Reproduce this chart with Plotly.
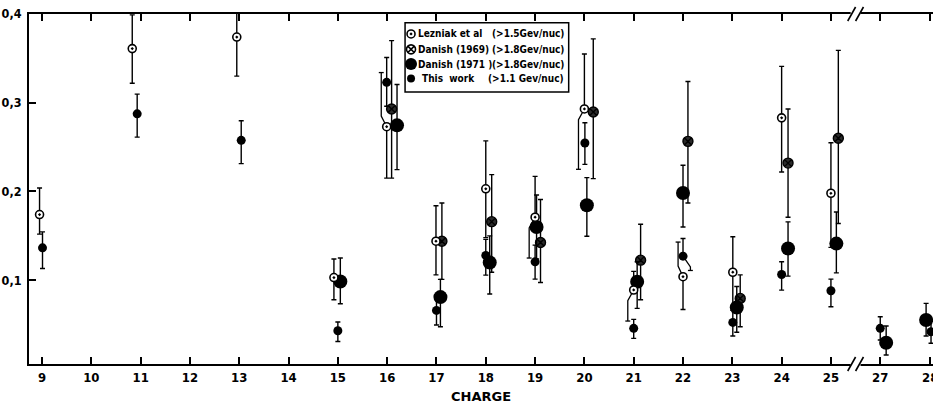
import plotly.graph_objects as go

# ---------------- data ----------------
TICK_CHARGES = [9, 10, 11, 12, 13, 14, 15, 16, 17, 18, 19, 20, 21, 22, 23, 24, 25, 27, 28]
TICK_LABELS = [str(c) for c in TICK_CHARGES]
Y_TICKS = [0.1, 0.2, 0.3, 0.4]
Y_TICK_LABELS = ["0,1", "0,2", "0,3", "0,4"]

# Lezniak et al (>1.5 GeV/nuc)
LEZ_Z = [9, 11, 13, 15, 16, 17, 18, 19, 20, 21, 22, 23, 24, 25]
LEZ_V = [0.174, 0.361, 0.374, 0.103, 0.273, 0.144, 0.203, 0.171, 0.293, 0.089, 0.104, 0.109, 0.283, 0.198]
LEZ_HI = [0.204, 0.399, 0.407, 0.124, 0.334, 0.184, 0.257, 0.217, 0.355, 0.110, 0.143, 0.149, 0.341, 0.255]
LEZ_LO = [0.152, 0.322, 0.330, 0.078, 0.215, 0.106, 0.148, 0.125, 0.225, 0.054, 0.067, 0.070, 0.222, 0.137]

# Danish (1969) (>1.8 GeV/nuc)
D69_Z = [16, 17, 18, 19, 20, 21, 22, 23, 24, 25]
D69_V = [0.293, 0.144, 0.166, 0.1425, 0.2895, 0.1226, 0.2565, 0.0795, 0.232, 0.260]
D69_HI = [0.370, 0.187, 0.219, 0.191, 0.372, 0.163, 0.324, 0.106, 0.293, 0.359]
D69_LO = [0.215, 0.101, 0.109, 0.0975, 0.2145, 0.078, 0.187, 0.0476, 0.171, 0.164]

# Danish (1971) (>1.8 GeV/nuc)
D71_Z = [15, 16, 17, 18, 19, 20, 21, 22, 23, 24, 25, 27, 28]
D71_V = [0.0986, 0.2745, 0.081, 0.120, 0.160, 0.1845, 0.0982, 0.1983, 0.0693, 0.1358, 0.1413, 0.0296, 0.0551]
D71_HI = [0.125, 0.3205, 0.101, 0.150, 0.196, 0.2156, 0.1208, 0.2295, 0.093, 0.1657, 0.1769, 0.0484, 0.0739]
D71_LO = [0.0735, 0.2246, 0.0476, 0.0844, 0.124, 0.1496, 0.0683, 0.160, 0.0413, 0.1046, 0.1083, 0.0157, 0.0371]

# This work (>1.1 GeV/nuc)
TW_Z = [9, 11, 13, 15, 16, 17, 18, 19, 20, 21, 22, 23, 24, 25, 27, 28]
TW_V = [0.1365, 0.2875, 0.2576, 0.0431, 0.323, 0.066, 0.128, 0.1207, 0.2546, 0.0458, 0.1271, 0.0525, 0.1065, 0.0881, 0.0458, 0.042]
TW_HI = [0.1545, 0.3097, 0.2797, 0.0529, 0.351, 0.083, 0.146, 0.1395, 0.2775, 0.0559, 0.147, 0.066, 0.1208, 0.1012, 0.0588, 0.055]
TW_LO = [0.1132, 0.2613, 0.2314, 0.031, 0.296, 0.0495, 0.1057, 0.1012, 0.2306, 0.0345, 0.111, 0.0371, 0.0889, 0.0701, 0.0326, 0.0289]

# ---------------- layout styling ----------------
# horizontal nudges so overlapping points separate (in axis units)
LEZ_DX = [-0.05, -0.17, -0.05, -0.08, -0.01, -0.01, 0, 0, 0, 0, 0, 0.01, 0, 0]
D69_DX = [0.09, 0.11, 0.12, 0.11, 0.18, 0.14, 0.10, 0.16, 0.13, 0.15]
D71_DX = [0.05, 0.20, 0.08, 0.08, 0.03, 0.05, 0.07, 0.0, 0.09, 0.13, 0.11, 0.12, -0.07]
TW_DX = [0.01, -0.07, 0.04, 0, -0.01, 0, 0, 0, 0.01, 0, 0, 0.01, 0, 0, 0, 0.03]

# error-bar halves drawn as side brackets instead: (charge, side, sideways shift)
LEZ_BRACKETS = [(16, "hi", -0.11), (19, "lo", -0.12), (20, "lo", -0.12), (21, "lo", -0.12), (22, "hi", -0.10)]
TW_BRACKETS = [(22, "lo", 0.15)]


def axis_pos(z):
    # the axis skips charge 26 (axis break), so 27 and 28 move one slot left
    return z - 1 if z >= 27 else z


def xs(zs, dxs):
    return [axis_pos(z) + d for z, d in zip(zs, dxs)]


def err(zs, v, hi, lo, brackets):
    skip = {(z, s) for z, s, _ in brackets}
    plus = [0 if (z, "hi") in skip else h - a for z, a, h in zip(zs, v, hi)]
    minus = [0 if (z, "lo") in skip else a - l for z, a, l in zip(zs, v, lo)]
    return dict(type="data", symmetric=False, array=plus, arrayminus=minus,
                color="black", thickness=1.4, width=2.5)


def bracket_lines(zs, dxs, v, hi, lo, brackets):
    bx, by = [], []
    for z, side, shift in brackets:
        i = zs.index(z)
        x0 = axis_pos(z) + dxs[i]
        bound = hi[i] if side == "hi" else lo[i]
        sgn = 1 if side == "hi" else -1
        knee = v[i] + sgn * 0.012
        bx += [x0, x0 + shift, x0 + shift, None, x0 + shift - 0.05, x0 + shift + 0.05, None]
        by += [v[i], knee, bound, None, bound, bound, None]
    return bx, by


fig = go.Figure()

for zs, dxs, v, hi, lo, br in [(LEZ_Z, LEZ_DX, LEZ_V, LEZ_HI, LEZ_LO, LEZ_BRACKETS),
                               (TW_Z, TW_DX, TW_V, TW_HI, TW_LO, TW_BRACKETS)]:
    bx, by = bracket_lines(zs, dxs, v, hi, lo, br)
    fig.add_trace(go.Scatter(x=bx, y=by, mode="lines", line=dict(color="black", width=1.3),
                             showlegend=False, hoverinfo="skip"))

fig.add_trace(go.Scatter(
    x=xs(D69_Z, D69_DX), y=D69_V, mode="markers", error_y=err(D69_Z, D69_V, D69_HI, D69_LO, []),
    marker=dict(symbol="circle-x", size=10, color="#2a2a2a", line=dict(color="black", width=1.4)),
    cliponaxis=False, showlegend=False))
fig.add_trace(go.Scatter(
    x=xs(D71_Z, D71_DX), y=D71_V, mode="markers", error_y=err(D71_Z, D71_V, D71_HI, D71_LO, []),
    marker=dict(symbol="circle", size=14, color="black", line=dict(color="black", width=0)),
    cliponaxis=False, showlegend=False))
fig.add_trace(go.Scatter(
    x=xs(TW_Z, TW_DX), y=TW_V, mode="markers", error_y=err(TW_Z, TW_V, TW_HI, TW_LO, TW_BRACKETS),
    marker=dict(symbol="circle", size=9, color="black", line=dict(color="black", width=0)),
    cliponaxis=False, showlegend=False))
fig.add_trace(go.Scatter(
    x=xs(LEZ_Z, LEZ_DX), y=LEZ_V, mode="markers", error_y=err(LEZ_Z, LEZ_V, LEZ_HI, LEZ_LO, LEZ_BRACKETS),
    marker=dict(symbol="circle-dot", size=8, color="white", line=dict(color="black", width=1.6)),
    cliponaxis=False, showlegend=False))

# ---------------- hand-built legend box ----------------
LEG_X0, LEG_X1, LEG_Y0, LEG_Y1 = 0.416, 0.597, 0.777, 0.975
ROW_Y = [0.943, 0.899, 0.857, 0.816]
SYM_X = 0.4226
legend_names = ["Lezniak et al", "Danish (1969)", "Danish (1971 )", "This  work"]
legend_ranges = ["(>1.5Gev/nuc)", "(>1.8Gev/nuc)", "(>1.8Gev/nuc)", "(>1.1 Gev/nuc)"]
legend_syms = [
    dict(symbol="circle-dot", size=8, color="white", line=dict(color="black", width=1.6)),
    dict(symbol="circle-x", size=9, color="white", line=dict(color="black", width=1.6)),
    dict(symbol="circle", size=12, color="black", line=dict(color="black", width=0)),
    dict(symbol="circle", size=8, color="black", line=dict(color="black", width=0)),
]

shapes = [dict(type="rect", xref="paper", yref="paper", x0=LEG_X0, x1=LEG_X1, y0=LEG_Y0, y1=LEG_Y1,
               line=dict(color="black", width=1.5), fillcolor="white", layer="below")]

for yv, sym in zip(ROW_Y, legend_syms):
    fig.add_trace(go.Scatter(x=[SYM_X], y=[yv], xaxis="x2", yaxis="y2", mode="markers",
                             marker=sym, showlegend=False, hoverinfo="skip", cliponaxis=False))

COND = "DejaVu Sans Condensed, DejaVu Sans, sans-serif"
NAME_FONT = dict(family=COND, size=10, color="black", weight="bold")
RANGE_FONT = dict(family=COND, size=10, color="black", weight="bold")
annotations = []
for i, (nm, rg, yv) in enumerate(zip(legend_names, legend_ranges, ROW_Y)):
    annotations.append(dict(xref="paper", yref="paper", x=0.4276 if i < 3 else 0.433, y=yv, text=nm,
                            showarrow=False, xanchor="left", yanchor="middle", font=NAME_FONT))
    annotations.append(dict(xref="paper", yref="paper", x=0.5945, y=yv, text=rg,
                            showarrow=False, xanchor="right", yanchor="middle", font=RANGE_FONT))

annotations.append(dict(xref="paper", yref="paper", x=0.5, y=-0.094, text="CHARGE", showarrow=False,
                        xanchor="center", yanchor="middle",
                        font=dict(family="DejaVu Sans, sans-serif", size=13, color="black", weight="bold")))

NARROW = "Liberation Sans Narrow, DejaVu Sans Condensed, sans-serif"
TICK_FONT = dict(family=NARROW, size=13, color="black", weight="bold")
# last tick label sits at the clipped right edge; drawn as an annotation so it is not dropped
annotations.append(dict(xref="x", yref="paper", x=axis_pos(TICK_CHARGES[-1]), y=-0.01, text=TICK_LABELS[-1],
                        showarrow=False, xanchor="center", yanchor="top", font=TICK_FONT))

# axis break marks "//" between 25 and 27 (bottom and top axes)
BREAK = 25.5
for yb in (0.0, 1.0):
    shapes.append(dict(type="line", xref="x", yref="paper", x0=BREAK - 0.1, x1=BREAK + 0.1,
                       y0=yb, y1=yb, line=dict(color="white", width=4), layer="above"))
    for dx in (-0.08, 0.08):
        shapes.append(dict(type="line", xref="x", yref="paper",
                           x0=BREAK + dx - 0.08, x1=BREAK + dx + 0.08,
                           y0=yb - 0.02, y1=yb + 0.02,
                           line=dict(color="black", width=1.6), layer="above"))

fig.update_layout(
    width=933, height=409,
    margin=dict(l=29, r=0, t=14, b=45),
    paper_bgcolor="white", plot_bgcolor="white",
    showlegend=False,
    xaxis=dict(range=[8.736, 27.07], tickmode="array",
               tickvals=[axis_pos(z) for z in TICK_CHARGES], ticktext=TICK_LABELS,
               ticks="inside", ticklen=7, tickwidth=1.5, tickcolor="black",
               showline=True, linewidth=2, linecolor="black", mirror="ticks",
               showgrid=False, zeroline=False, tickfont=TICK_FONT),
    yaxis=dict(range=[0.0056, 0.4], tickmode="array", tickvals=Y_TICKS, ticktext=Y_TICK_LABELS,
               ticks="inside", ticklen=7, tickwidth=1.5, tickcolor="black",
               showline=True, linewidth=2, linecolor="black",
               showgrid=False, zeroline=False, ticklabelstandoff=3,
               tickfont=dict(family=NARROW, size=12.5, color="black", weight="bold")),
    xaxis2=dict(range=[0, 1], overlaying="x", visible=False, fixedrange=True),
    yaxis2=dict(range=[0, 1], overlaying="y", visible=False, fixedrange=True),
    shapes=shapes,
    annotations=annotations,
)

fig.write_html("out.html")
